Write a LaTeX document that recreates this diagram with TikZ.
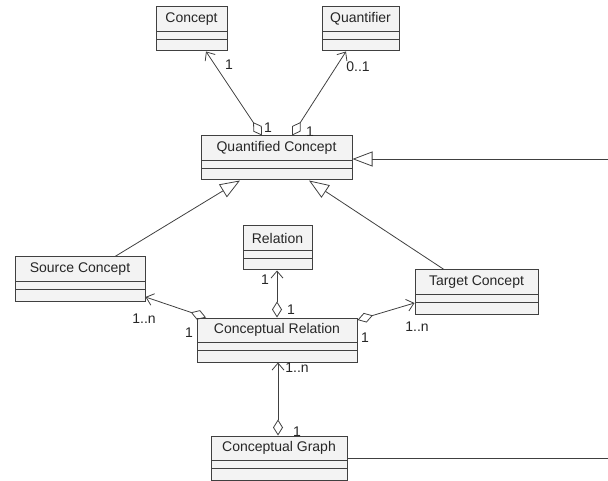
\documentclass[tikz,border=0pt]{standalone}
\usepackage{fontspec}
\setmainfont{Liberation Sans}
\usetikzlibrary{arrows.meta,fit}
\definecolor{lc}{HTML}{404040}
\definecolor{bf}{HTML}{F3F3F3}
\definecolor{tc}{HTML}{262626}
\tikzset{
  classbox/.style={draw=lc, fill=bf, inner sep=0pt, line width=1pt},
  lbl/.style={inner sep=0pt, text=tc, font=\fontsize{14}{16}\selectfont},
  assoc/.style={draw=lc, line width=0.8pt, {Diamond[open,length=16pt,width=10pt]}-{Straight Barb[length=7pt,width=12pt]}},
  gen/.style={draw=lc, line width=0.8pt, -{Triangle[open,length=20pt,width=15pt]}},
  plain/.style={draw=lc, line width=0.8pt},
}
% name, x1, y1, x2, text
\newcommand\umlclass[5]{%
  \node[classbox, fit={(#2,#3)(#4,#3+44)}] (#1) {};
  \path (#1.north) ++(0,12.5) node[lbl] (#1-t) {#5};
  \draw[lc, line width=0.8pt] (#2,#3+24) -- (#4,#3+24);
  \draw[lc, line width=0.8pt] (#2,#3+32) -- (#4,#3+32);
}
\begin{document}
\begin{tikzpicture}[x=1pt,y=-1pt]
\useasboundingbox (0,0) rectangle (608,481);

\umlclass{concept}{156}{7}{227}{Concept}
\umlclass{quant}{322}{7}{399}{Quantifier}
\umlclass{qc}{201}{136}{352}{Quantified Concept}
\umlclass{src}{15}{257}{145}{Source Concept}
\umlclass{rel}{243}{226}{312}{Relation}
\umlclass{tgt}{415}{270}{538}{Target Concept}
\umlclass{cr}{197}{318}{357}{Conceptual Relation}
\umlclass{cg}{211}{436}{347}{Conceptual Graph}

\coordinate (r1) at (608,159);
\coordinate (r2) at (608,458);

% aggregations
\draw[assoc] (qc.north -| 262,0) -- (concept.south -| 206,0);
\draw[assoc] (qc.north -| 292,0) -- (quant.south -| 346,0);
\draw[assoc] (cr.north -| 277,0) -- (rel.south -| 277,0);
\draw[assoc] (cr.north -| 206,0) -- (src.east |- 0,297);
\draw[assoc] (cr.east |- 0,320) -- (tgt.west |- 0,303);
\draw[assoc] (cg.north -| 278,0) -- (cr.south -| 278,0);

% generalizations
\draw[gen] (src.north -| 115,0) -- (qc.south -| 240,0);
\draw[gen] (tgt.north -| 444,0) -- (qc.south -| 309,0);
\draw[gen] (r1) -- (qc.east |- r1);
\draw[plain] (cg.east |- r2) -- (r2);

% multiplicities
\node[lbl] (m1) at (229,65) {1};
\node[lbl] (m2) at (268,128) {1};
\node[lbl] (m3) at (358,67) {0..1};
\node[lbl] (m4) at (310,132) {1};
\node[lbl] (m5) at (265,280) {1};
\node[lbl] (m6) at (291,310) {1};
\node[lbl] (m7) at (144,319) {1..n};
\node[lbl] (m8) at (189,333) {1};
\node[lbl] (m9) at (417,327) {1..n};
\node[lbl] (m10) at (365,338) {1};
\node[lbl] (m11) at (297,368) {1..n};
\node[lbl] (m12) at (297,432) {1};
\end{tikzpicture}
\end{document}
